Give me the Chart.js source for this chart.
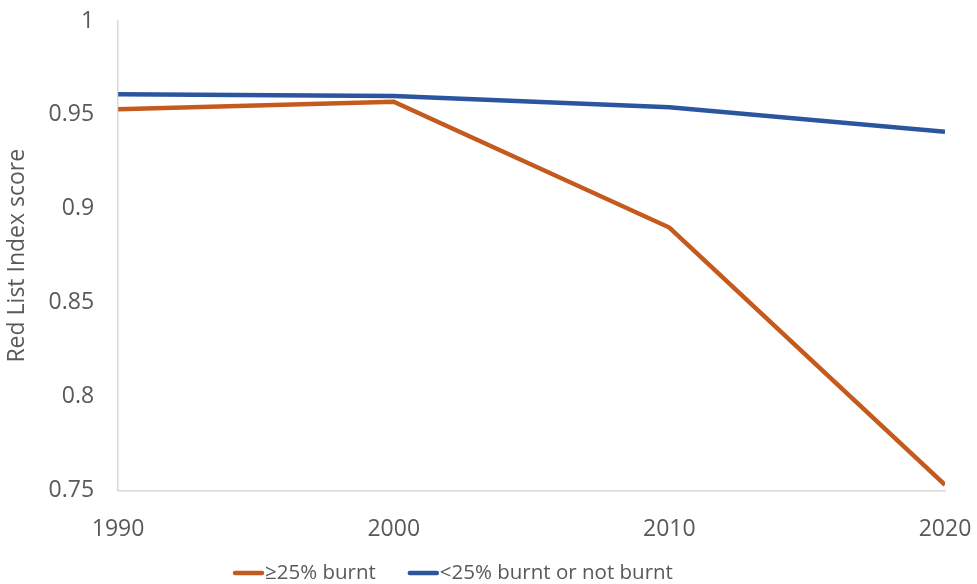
<!DOCTYPE html>
<html>
<head>
<meta charset="utf-8">
<script src="https://cdn.jsdelivr.net/npm/chart.js@4/dist/chart.umd.min.js"></script>
<style>
  html, body { margin: 0; padding: 0; background: #ffffff; }
  #wrap { width: 977px; height: 584px; position: relative; }
</style>
</head>
<body>
<div id="wrap"><canvas id="chart" width="977" height="584"></canvas></div>
<script>
// Red List Index by burn category
const years = [1990, 2000, 2010, 2020];
const burntHigh = [0.953, 0.957, 0.890, 0.753];   // ≥25% burnt
const burntLow = [0.961, 0.960, 0.954, 0.941];    // <25% burnt or not burnt
const seriesLabels = ['≥25% burnt', '<25% burnt or not burnt'];
const seriesColors = ['#c55a1e', '#2c55a0'];
const yTickLabels = ['0.75', '0.8', '0.85', '0.9', '0.95', '1'];
const xTickLabels = ['1990', '2000', '2010', '2020'];

const FONT = '"Open Sans", "Liberation Sans", sans-serif';
const TEXT = '#595959';

// Legend drawn as a short line sample followed directly by its label
const lineLegend = {
  id: 'lineLegend',
  afterDraw(chart) {
    const ctx = chart.ctx;
    const sample = 31, gapText = 1, gapItem = 32, y = 573;
    ctx.save();
    ctx.font = '20.5px ' + FONT;
    ctx.textBaseline = 'middle';
    let x = 233;
    chart.data.datasets.forEach(ds => {
      const w = sample + gapText + ctx.measureText(ds.label).width;
      ctx.strokeStyle = ds.borderColor;
      ctx.lineWidth = 4.5;
      ctx.lineCap = 'round';
      ctx.beginPath();
      ctx.moveTo(x + 2, y);
      ctx.lineTo(x + sample - 2, y);
      ctx.stroke();
      ctx.fillStyle = TEXT;
      ctx.fillText(ds.label, x + sample + gapText, y);
      x += w + gapItem;
    });
    ctx.restore();
  }
};

new Chart(document.getElementById('chart'), {
  type: 'line',
  data: {
    datasets: [
      {
        label: seriesLabels[0],
        data: years.map((yr, i) => ({ x: yr, y: burntHigh[i] })),
        borderColor: seriesColors[0],
        backgroundColor: seriesColors[0],
        borderWidth: 4.5,
        pointRadius: 0,
        tension: 0,
        borderCapStyle: 'butt',
        borderJoinStyle: 'miter'
      },
      {
        label: seriesLabels[1],
        data: years.map((yr, i) => ({ x: yr, y: burntLow[i] })),
        borderColor: seriesColors[1],
        backgroundColor: seriesColors[1],
        borderWidth: 4.5,
        pointRadius: 0,
        tension: 0,
        borderCapStyle: 'butt',
        borderJoinStyle: 'miter'
      }
    ]
  },
  options: {
    responsive: false,
    animation: false,
    events: [],
    layout: { padding: { left: 4, right: 32, top: 21, bottom: 16 } },
    plugins: {
      legend: { display: false },
      tooltip: { enabled: false }
    },
    scales: {
      x: {
        type: 'linear',
        min: years[0],
        max: years[years.length - 1],
        grid: { display: false, drawTicks: false },
        border: { display: true, color: '#d9d9d9', width: 1.5 },
        afterBuildTicks(axis) {
          axis.ticks = years.map(v => ({ value: v }));
        },
        afterFit(axis) {
          axis.paddingLeft = 0;
          axis.paddingRight = 0;
        },
        ticks: {
          color: TEXT,
          font: { family: FONT, size: 23 },
          padding: 25,
          maxRotation: 0,
          callback: (v) => xTickLabels[years.indexOf(v)]
        }
      },
      y: {
        min: 0.75,
        max: 1,
        grid: { display: false, drawTicks: false },
        border: { display: true, color: '#d9d9d9', width: 1.5 },
        afterBuildTicks(axis) {
          axis.ticks = yTickLabels.map(t => ({ value: parseFloat(t) }));
        },
        afterFit(axis) {
          axis.paddingTop = 0;
          axis.paddingBottom = 0;
        },
        ticks: {
          color: TEXT,
          font: { family: FONT, size: 23 },
          padding: 24,
          callback: (v) => yTickLabels.find(t => Math.abs(parseFloat(t) - v) < 1e-6)
        },
        title: {
          display: true,
          text: 'Red List Index score',
          color: TEXT,
          font: { family: FONT, size: 23 },
          padding: { top: 0, bottom: -7 }
        }
      }
    }
  },
  plugins: [lineLegend]
});
</script>
</body>
</html>
